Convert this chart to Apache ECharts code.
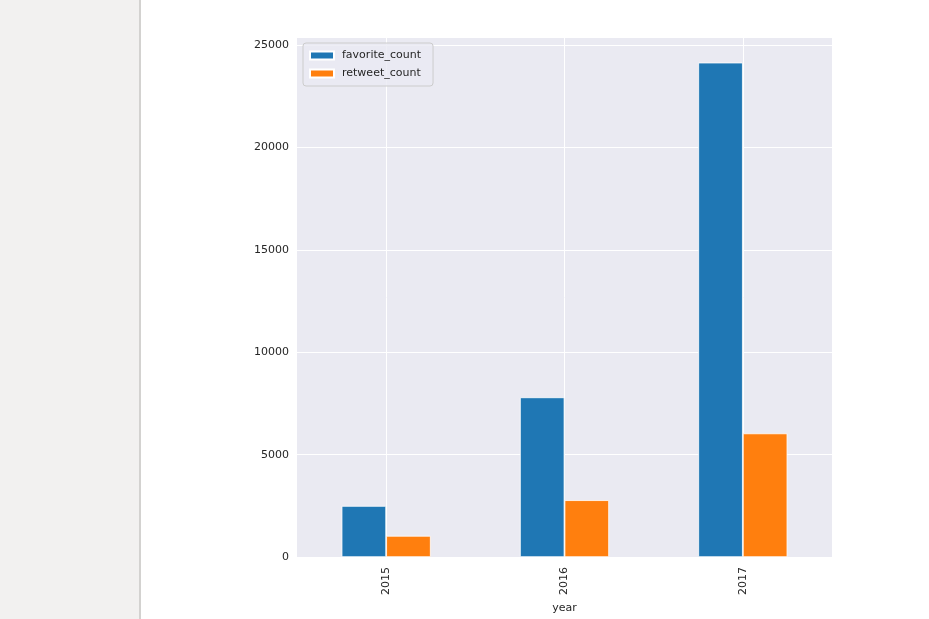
<!DOCTYPE html>
<html>
<head>
<meta charset="utf-8">
<script src="https://cdn.jsdelivr.net/npm/echarts@6/dist/echarts.min.js"></script>
<style>
html,body{margin:0;padding:0;background:#fff;}
#c{width:929px;height:619px;}
</style>
</head>
<body>
<div id="c"></div>
<script>
var years = ['2015', '2016', '2017'];
var favoriteCount = [2500, 7800, 24140];
var retweetCount = [1040, 2780, 6040];
var seriesNames = ['favorite_count', 'retweet_count'];
var yTicks = [0, 5000, 10000, 15000, 20000, 25000];
var yMax = 25340;

var chart = echarts.init(document.getElementById('c'), null, {renderer: 'canvas'});
var font = 'DejaVu Sans';
chart.setOption({
  backgroundColor: '#ffffff',
  animation: false,
  graphic: [
    {type: 'rect', left: 0, top: 0, shape: {width: 139, height: 619}, style: {fill: '#f2f1f0'}, z: -10},
    {type: 'rect', left: 139, top: 0, shape: {width: 2, height: 619}, style: {fill: '#d3d2d0'}, z: -10}
  ],
  grid: {
    left: 297, right: 97, top: 38, bottom: 55,
    show: true, backgroundColor: '#eaeaf2', borderWidth: 0
  },
  legend: {
    data: seriesNames,
    orient: 'vertical',
    left: 303, top: 43,
    padding: [7, 12, 7, 6],
    itemWidth: 24, itemHeight: 8, itemGap: 7,
    icon: 'rect',
    backgroundColor: 'rgba(234,234,242,0.8)',
    borderColor: '#cccccc', borderWidth: 1, borderRadius: 3,
    textStyle: {fontFamily: font, fontSize: 11, color: '#262626', padding: [0, 0, 0, 3]}
  },
  xAxis: {
    type: 'category',
    data: years,
    name: 'year',
    nameLocation: 'middle',
    nameGap: 41,
    nameTextStyle: {fontFamily: font, fontSize: 11, color: '#262626'},
    axisLine: {show: false},
    axisTick: {show: false},
    axisLabel: {rotate: 90, margin: 10, fontFamily: font, fontSize: 11, color: '#262626'},
    splitLine: {show: true, alignWithLabel: true, lineStyle: {color: '#ffffff', width: 1}}
  },
  yAxis: {
    type: 'value',
    min: 0, max: yMax, interval: yTicks[1] - yTicks[0],
    axisLine: {show: false},
    axisTick: {show: false},
    axisLabel: {margin: 8, fontFamily: font, fontSize: 11, color: '#262626', showMaxLabel: false,
      formatter: function (v) { return yTicks.indexOf(v) >= 0 ? String(v) : ''; }},
    splitLine: {show: true, showMaxLine: false, lineStyle: {color: '#ffffff', width: 1}}
  },
  series: [
    {name: seriesNames[0], type: 'bar', data: favoriteCount, barGap: '0%', barCategoryGap: '50%',
      itemStyle: {color: '#1f77b4', borderColor: '#ffffff', borderWidth: 0.8}},
    {name: seriesNames[1], type: 'bar', data: retweetCount, barGap: '0%', barCategoryGap: '50%',
      itemStyle: {color: '#ff7f0e', borderColor: '#ffffff', borderWidth: 0.8}}
  ]
});
</script>
</body>
</html>
